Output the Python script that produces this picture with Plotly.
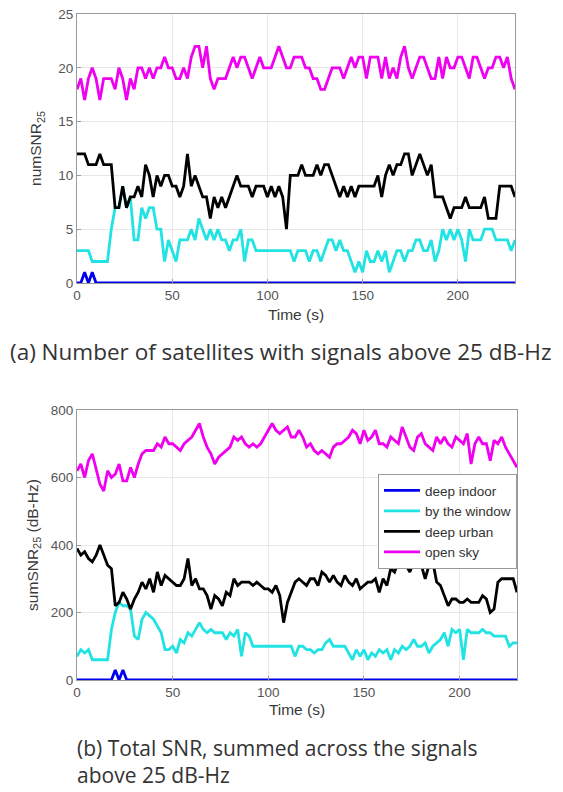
import plotly.graph_objects as go

# ---------------- data (sampled every 2 s, t = 0 ... 230 s) ----------------
time_s = list(range(0, 231, 2))

series_names = ["deep indoor", "by the window", "deep urban", "open sky"]
series_colors = ["#0000F0", "#22E3E3", "#000000", "#F000F0"]

# (a) number of satellites with SNR above 25 dB-Hz
num_indoor = [0, 0, 1, 0, 1, 0, 0, 0, 0, 0, 0, 0,
              0, 0, 0, 0, 0, 0, 0, 0, 0, 0, 0, 0,
              0, 0, 0, 0, 0, 0, 0, 0, 0, 0, 0, 0,
              0, 0, 0, 0, 0, 0, 0, 0, 0, 0, 0, 0,
              0, 0, 0, 0, 0, 0, 0, 0, 0, 0, 0, 0,
              0, 0, 0, 0, 0, 0, 0, 0, 0, 0, 0, 0,
              0, 0, 0, 0, 0, 0, 0, 0, 0, 0, 0, 0,
              0, 0, 0, 0, 0, 0, 0, 0, 0, 0, 0, 0,
              0, 0, 0, 0, 0, 0, 0, 0, 0, 0, 0, 0,
              0, 0, 0, 0, 0, 0, 0, 0]
num_window = [3, 3, 3, 3, 2, 2, 2, 2, 2, 5, 7, 7,
              9, 7, 8, 4, 4, 7, 6, 7, 7, 5, 5, 2,
              4, 3, 2, 4, 4, 4, 5, 4, 6, 5, 4, 5,
              4, 5, 4, 4, 3, 4, 4, 5, 2, 4, 4, 3,
              3, 3, 3, 3, 3, 3, 3, 3, 3, 2, 3, 3,
              3, 2, 3, 3, 2, 3, 4, 4, 3, 4, 3, 3,
              2, 1, 2, 1, 3, 2, 2, 3, 2, 3, 1, 2,
              3, 3, 2, 3, 3, 4, 4, 3, 3, 4, 2, 3,
              5, 4, 5, 4, 5, 4, 2, 5, 4, 4, 4, 5,
              5, 5, 4, 4, 4, 4, 3, 4]
num_urban = [12, 12, 12, 11, 11, 11, 12, 11, 11, 11, 7, 7,
             9, 7, 8, 8, 9, 8, 11, 10, 8, 10, 9, 10,
             10, 9, 9, 8, 9, 12, 9, 10, 9, 8, 8, 6,
             8, 7, 8, 7, 8, 9, 10, 9, 9, 9, 8, 9,
             9, 9, 8, 9, 8, 9, 8, 5, 10, 10, 10, 11,
             10, 10, 10, 11, 10, 11, 11, 10, 9, 8, 9, 8,
             9, 8, 9, 9, 9, 9, 9, 10, 8, 10, 11, 10,
             11, 11, 12, 12, 10, 11, 12, 11, 10, 11, 8, 8,
             8, 7, 6, 7, 7, 7, 8, 7, 7, 7, 7, 8,
             6, 6, 6, 9, 9, 9, 9, 8]
num_open = [18, 19, 17, 19, 20, 19, 17, 19, 19, 19, 18, 20,
            19, 17, 19, 18, 20, 20, 19, 20, 19, 20, 20, 21,
            20, 20, 19, 19, 20, 19, 21, 22, 22, 20, 22, 19,
            18, 19, 19, 19, 20, 21, 20, 21, 21, 20, 19, 20,
            21, 20, 20, 20, 21, 22, 21, 20, 20, 21, 21, 21,
            20, 20, 19, 19, 18, 18, 19, 20, 20, 20, 19, 20,
            21, 20, 21, 21, 19, 21, 21, 21, 19, 21, 19, 20,
            19, 21, 22, 20, 19, 20, 21, 21, 20, 19, 19, 21,
            19, 21, 20, 20, 21, 21, 20, 19, 21, 21, 20, 19,
            20, 20, 21, 21, 20, 21, 19, 18]

# (b) summed SNR above 25 dB-Hz (dB-Hz)
sum_indoor = [0, 0, 0, 0, 0, 0, 0, 0, 0, 0, 30, 0,
              30, 0, 0, 0, 0, 0, 0, 0, 0, 0, 0, 0,
              0, 0, 0, 0, 0, 0, 0, 0, 0, 0, 0, 0,
              0, 0, 0, 0, 0, 0, 0, 0, 0, 0, 0, 0,
              0, 0, 0, 0, 0, 0, 0, 0, 0, 0, 0, 0,
              0, 0, 0, 0, 0, 0, 0, 0, 0, 0, 0, 0,
              0, 0, 0, 0, 0, 0, 0, 0, 0, 0, 0, 0,
              0, 0, 0, 0, 0, 0, 0, 0, 0, 0, 0, 0,
              0, 0, 0, 0, 0, 0, 0, 0, 0, 0, 0, 0,
              0, 0, 0, 0, 0, 0, 0, 0]
sum_window = [70, 90, 80, 90, 60, 60, 60, 60, 60, 150, 200, 230,
              220, 220, 210, 130, 120, 180, 200, 190, 180, 160, 140, 90,
              90, 100, 80, 120, 110, 140, 130, 150, 170, 150, 140, 150,
              140, 140, 140, 120, 140, 130, 150, 70, 140, 130, 100, 100,
              100, 100, 100, 100, 100, 100, 100, 100, 100, 70, 100, 100,
              90, 90, 80, 90, 90, 110, 120, 100, 100, 100, 100, 80,
              60, 90, 70, 90, 60, 80, 70, 90, 80, 90, 60, 90,
              80, 100, 90, 100, 120, 100, 100, 110, 80, 100, 110, 120,
              140, 100, 150, 140, 150, 60, 150, 140, 140, 140, 150, 140,
              140, 130, 130, 130, 130, 100, 110, 110]
sum_urban = [390, 370, 380, 360, 350, 370, 400, 370, 340, 330, 220, 230,
             260, 240, 210, 240, 260, 290, 270, 300, 260, 320, 280, 310,
             300, 290, 280, 280, 300, 360, 280, 300, 270, 270, 250, 210,
             250, 240, 220, 260, 250, 300, 280, 290, 290, 290, 280, 290,
             280, 270, 270, 260, 280, 250, 170, 230, 260, 290, 300, 290,
             280, 300, 300, 280, 320, 310, 290, 310, 290, 280, 310, 290,
             280, 300, 270, 280, 290, 290, 300, 260, 300, 280, 330, 320,
             350, 360, 340, 320, 350, 360, 340, 300, 340, 350, 290, 280,
             250, 220, 240, 240, 230, 230, 240, 230, 230, 230, 250, 240,
             200, 210, 290, 300, 300, 300, 300, 260]
sum_open = [620, 640, 600, 650, 670, 620, 580, 560, 620, 600, 610, 640,
            590, 590, 630, 600, 640, 670, 680, 680, 680, 700, 690, 720,
            700, 700, 690, 680, 700, 710, 720, 740, 760, 720, 690, 670,
            640, 660, 670, 680, 690, 720, 710, 720, 700, 690, 700, 690,
            700, 720, 740, 760, 740, 730, 740, 750, 720, 720, 740, 720,
            690, 700, 680, 670, 680, 670, 660, 690, 700, 700, 710, 720,
            740, 730, 700, 740, 710, 720, 740, 700, 700, 690, 720, 710,
            700, 750, 720, 690, 680, 720, 730, 700, 690, 680, 720, 700,
            720, 700, 690, 720, 710, 700, 730, 640, 700, 720, 700, 700,
            650, 710, 700, 720, 690, 670, 650, 630]

num_ticks = [0, 5, 10, 15, 20, 25]
sum_ticks = [0, 200, 400, 600, 800]
time_ticks = [0, 50, 100, 150, 200]

caption_a = "(a) Number of satellites with signals above 25 dB-Hz"
caption_b = "(b) Total SNR, summed across the signals<br>above 25 dB-Hz"

# ---------------- figure ----------------
# the page body has an 8 px margin, so the figure is drawn 8 px in from the corner
OFF = 8
W, H = 563 - OFF, 792 - OFF
fig = go.Figure()

top_series = [num_indoor, num_window, num_urban, num_open]
bot_series = [sum_indoor, sum_window, sum_urban, sum_open]

for name, col, ys in zip(series_names, series_colors, top_series):
    fig.add_trace(go.Scatter(x=time_s, y=ys, mode="lines", name=name,
                             line=dict(color=col, width=2.8),
                             showlegend=False, xaxis="x", yaxis="y"))
for name, col, ys in zip(series_names, series_colors, bot_series):
    fig.add_trace(go.Scatter(x=time_s, y=ys, mode="lines", name=name,
                             line=dict(color=col, width=2.8),
                             showlegend=True, xaxis="x2", yaxis="y2"))

tick_font = dict(family="Liberation Sans, Arial", size=13.5, color="#555555")
title_font = dict(family="Liberation Sans, Arial", size=15.5, color="#3a3a3a")
ax_common = dict(showline=True, linecolor="#9a9a9a", linewidth=1, mirror=True,
                 ticks="inside", ticklen=4, tickcolor="#9a9a9a",
                 showgrid=True, gridcolor="#e8e8e8", zeroline=False,
                 tickfont=tick_font, automargin=False,
                 ticklabeloverflow="allow")

def px_x(p):
    return (p - OFF) / W

def px_y(p):
    return 1 - (p - OFF) / H

fig.update_layout(
    width=W, height=H,
    margin=dict(l=0, r=0, t=0, b=0, autoexpand=False),
    paper_bgcolor="white", plot_bgcolor="white",
    xaxis=dict(domain=[px_x(77), px_x(515)], range=[0, 230], anchor="y",
               tickvals=time_ticks,
               title=dict(text="Time (s)", font=title_font, standoff=6),
               **ax_common),
    yaxis=dict(domain=[px_y(283), px_y(14)], range=[0, 25], anchor="x",
               tickvals=num_ticks,
               title=dict(text="numSNR<sub>25</sub>", font=title_font, standoff=12),
               **ax_common),
    xaxis2=dict(domain=[px_x(77), px_x(517)], range=[0, 230], anchor="y2",
                tickvals=time_ticks,
                title=dict(text="Time (s)", font=title_font, standoff=4),
                **ax_common),
    yaxis2=dict(domain=[px_y(680), px_y(410)], range=[0, 800], anchor="x2",
                tickvals=sum_ticks,
                title=dict(text="sumSNR<sub>25</sub> (dB-Hz)", font=title_font, standoff=8),
                **ax_common),
    legend=dict(x=px_x(517), xanchor="right", y=px_y(474), yanchor="top",
                bgcolor="white", bordercolor="#9a9a9a", borderwidth=1,
                font=dict(family="Liberation Sans, Arial", size=13.5, color="#333333"),
                tracegroupgap=0, itemwidth=36),
    showlegend=True,
)

fig.add_annotation(text=caption_a, xref="paper", yref="paper",
                   x=px_x(8), y=px_y(352), xanchor="left", yanchor="middle",
                   showarrow=False,
                   font=dict(family="Open Sans, Noto Sans", size=22.5, color="#333333"))
fig.add_annotation(text=caption_b, xref="paper", yref="paper",
                   x=px_x(75), y=px_y(761), xanchor="left", yanchor="middle",
                   align="left", showarrow=False,
                   font=dict(family="Open Sans, Noto Sans", size=21, color="#333333"))

fig.write_html("out.html")
